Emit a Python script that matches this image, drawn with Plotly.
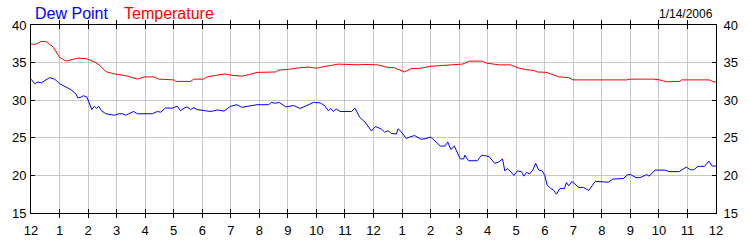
import plotly.graph_objects as go

# ---- data (hours since midnight, values in °F) ----
temp_hours = [0.0, 0.13, 0.35, 0.52, 0.77, 1.0, 1.23, 1.40, 1.64, 1.96, 2.22, 2.39, 2.62, 2.92,
              3.38, 3.73, 3.96, 4.31, 4.48, 5.01, 5.06, 5.59, 5.70, 6.05, 6.17, 6.47, 6.82, 7.05,
              7.40, 7.63, 7.92, 8.56, 8.68, 9.02, 9.37, 9.72, 10.01, 10.30, 10.65, 10.77, 11.46,
              11.70, 12.16, 12.45, 12.74, 13.09, 13.32, 13.67, 13.96, 14.48, 14.66, 15.12, 15.36,
              15.82, 15.93, 16.40, 16.80, 17.10, 17.39, 17.62, 17.74, 18.08, 18.20, 18.49, 18.84,
              18.99, 20.87, 20.99, 21.80, 22.03, 22.26, 22.73, 22.79, 23.77, 23.89, 24.0]
temp_values = [37.5, 37.4, 37.8, 37.8, 37.1, 35.7, 35.2, 35.4, 35.6, 35.5, 35.1, 34.7, 33.8, 33.5,
               33.2, 32.8, 33.1, 33.1, 32.8, 32.7, 32.5, 32.5, 32.8, 32.8, 33.1, 33.3, 33.5, 33.3,
               33.2, 33.4, 33.7, 33.75, 34.0, 34.1, 34.3, 34.4, 34.25, 34.5, 34.75, 34.8, 34.7,
               34.75, 34.7, 34.4, 34.3, 33.75, 34.2, 34.25, 34.5, 34.6, 34.7, 34.8, 35.2,
               35.2, 34.95, 34.7, 34.7, 34.25, 34.05, 33.95, 33.75, 33.7, 33.5, 33.1, 33.0,
               32.7, 32.7, 32.8, 32.8, 32.7, 32.45, 32.5, 32.7, 32.7, 32.45, 32.45]

dew_hours = [0.0, 0.13, 0.24, 0.36, 0.65, 0.83, 1.0, 1.11, 1.40, 1.58, 1.64, 1.75, 1.84, 1.96,
             2.05, 2.13, 2.22, 2.30, 2.37, 2.47, 2.62, 2.92, 3.09, 3.21, 3.32, 3.59, 3.73, 4.25,
             4.43, 4.54, 4.71, 4.95, 5.12, 5.24, 5.36, 5.47, 5.59, 5.70, 5.82, 6.11, 6.30, 6.53,
             6.76, 6.99, 7.22, 7.38, 7.63, 7.92, 8.33, 8.42, 8.56, 8.70, 8.93, 9.20, 9.43, 9.66,
             9.90, 10.13, 10.28, 10.42, 10.50, 10.59, 10.69, 10.83, 11.23, 11.35, 11.52, 11.70,
             11.81, 11.93, 12.07, 12.28, 12.39, 12.51, 12.62, 12.80, 12.86, 12.97, 13.15, 13.26,
             13.44, 13.67, 13.84, 14.00, 14.08, 14.34, 14.51, 14.60, 14.71, 14.83, 15.04, 15.16,
             15.20, 15.33, 15.64, 15.79, 16.05, 16.25, 16.40, 16.52, 16.60, 16.69, 16.78, 16.92,
             17.04, 17.18, 17.27, 17.36, 17.47, 17.59, 17.68, 17.79, 17.91, 18.00, 18.08, 18.20,
             18.32, 18.41, 18.53, 18.69, 18.76, 18.84, 18.95, 19.19, 19.36, 19.54, 19.77, 20.23,
             20.38, 20.76, 20.90, 21.01, 21.20, 21.34, 21.57, 21.66, 21.86, 22.21, 22.36, 22.71,
             22.85, 22.96, 23.10, 23.22, 23.37, 23.60, 23.75, 23.86, 24.0]
dew_values = [32.8, 32.2, 32.4, 32.3, 33.0, 32.8, 32.2, 32.0, 31.4, 30.8, 30.3, 30.4, 30.6, 30.4,
              29.6, 28.75, 29.2, 28.9, 29.2, 28.6, 28.2, 28.0, 28.2, 28.2, 28.0, 28.5, 28.2, 28.2,
              28.5, 28.4, 28.95, 28.95, 29.2, 28.6, 28.95, 29.1, 28.75, 29.0, 28.75, 28.6, 28.5, 28.7,
              28.55, 29.2, 29.4, 29.05, 29.25, 29.4, 29.4, 29.7, 29.6, 29.7, 29.1, 29.3, 28.9, 29.3,
              29.7, 29.65, 29.3, 28.6, 28.9, 28.5, 28.85, 28.5, 28.5, 28.95, 27.7, 27.1,
              26.5, 25.9, 26.5, 26.15, 25.75, 25.95, 25.6, 25.5, 26.2, 25.8, 24.9, 25.1,
              25.3, 24.8, 24.9, 25.1, 24.85, 23.9, 23.9, 24.45, 23.45, 23.9, 22.2, 22.2,
              22.7, 21.95, 21.95, 22.7, 22.5, 21.6, 21.8, 22.2, 20.6, 20.9, 20.6, 20.0,
              20.6, 20.5, 19.9, 20.4, 20.2, 20.75, 21.6, 20.7, 20.6, 20.0, 18.75, 18.3,
              18.0, 17.5, 18.25, 18.25, 19.05, 18.6, 19.2, 18.4, 18.4, 18.0, 19.2, 19.1,
              19.5, 19.6, 20.1, 20.1, 19.7, 19.7, 20.1, 19.9, 20.7, 20.7, 20.5, 20.5,
              20.85, 21.1, 20.75, 20.75, 21.2, 21.2, 21.9, 21.25, 21.25]

x_tickvals = list(range(0, 25))
x_ticktext = ["12"] + [str(i) for i in range(1, 12)] + ["12"] + [str(i) for i in range(1, 12)] + ["12"]
y_tickvals = [15, 20, 25, 30, 35, 40]
y_range = [15, 40]
title_date = "1/14/2006"

FONT = "Liberation Sans, Arial, sans-serif"

fig = go.Figure()
fig.add_trace(go.Scatter(x=dew_hours, y=dew_values, mode="lines", name="Dew Point",
                         line=dict(color="#0000ff", width=1), yaxis="y"))
fig.add_trace(go.Scatter(x=temp_hours, y=temp_values, mode="lines", name="Temperature",
                         line=dict(color="#ff0000", width=1), yaxis="y2"))

axis_common = dict(showline=True, linecolor="black", linewidth=1, ticks="inside", ticklen=4,
                   tickcolor="black", tickfont=dict(family=FONT, size=13, color="black"),
                   zeroline=False)

fig.update_layout(
    width=750, height=250,
    margin=dict(l=31, r=30, t=25, b=25),
    paper_bgcolor="white", plot_bgcolor="white",
    showlegend=False,
    xaxis=dict(range=[0, 24], tickvals=x_tickvals, ticktext=x_ticktext, mirror="allticks",
               showgrid=True, gridcolor="#c8c8c8", gridwidth=1, ticklabelstandoff=5,
               **axis_common),
    yaxis=dict(range=y_range, tickvals=y_tickvals, mirror=True, showgrid=True,
               gridcolor="#c8c8c8", gridwidth=1, ticklabelstandoff=1, **axis_common),
    yaxis2=dict(range=y_range, tickvals=y_tickvals, overlaying="y", side="right",
                showgrid=False, ticklabelstandoff=4, **axis_common),
    annotations=[
        dict(text="Dew Point", x=(33 - 31) / 689, y=1 + (25 - 13) / 200, xref="paper", yref="paper",
             xanchor="left", yanchor="middle", showarrow=False,
             font=dict(family=FONT, size=16, color="#0000ff")),
        dict(text="Temperature", x=(123 - 31) / 689, y=1 + (25 - 13) / 200, xref="paper", yref="paper",
             xanchor="left", yanchor="middle", showarrow=False,
             font=dict(family=FONT, size=16, color="#ff0000")),
        dict(text=title_date, x=(719 - 31) / 689, y=1 + (25 - 13) / 200, xref="paper", yref="paper",
             xanchor="right", yanchor="middle", showarrow=False,
             font=dict(family=FONT, size=12, color="black")),
    ],
)

fig.write_html("out.html")
